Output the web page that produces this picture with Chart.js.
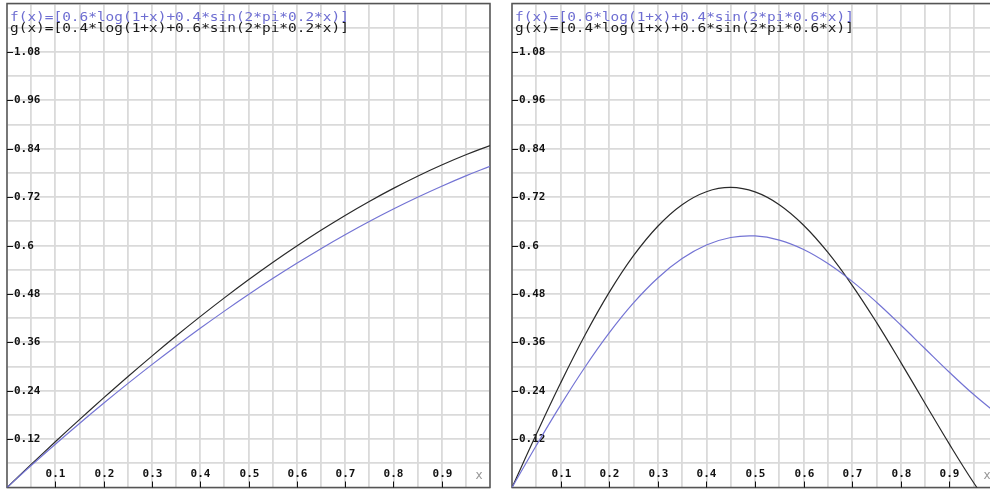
<!DOCTYPE html>
<html>
<head>
<meta charset="utf-8">
<script src="https://cdn.jsdelivr.net/npm/chart.js@4/dist/chart.umd.min.js"></script>
<style>
  html, body { margin:0; padding:0; width:990px; height:489px; overflow:hidden; background:#fff; }
  .panel { position:absolute; top:0; height:489px; }
  .ttl { position:absolute; font-family:"DejaVu Sans Mono", monospace; font-size:13px; line-height:13px; white-space:pre; transform-origin:0 0; transform:scaleX(1.11); }
  .fcol { color:#6e6ed2; }
  .gcol { color:#1a1a1a; }
</style>
</head>
<body>
<div class="panel" style="left:0;width:495px"><canvas id="c1"></canvas></div>
<div class="panel" style="left:505px;width:500px"><canvas id="c2"></canvas></div>
<div id="t1f" class="ttl fcol" style="left:10px;top:10px"></div>
<div id="t1g" class="ttl gcol" style="left:10px;top:21px"></div>
<div id="t2f" class="ttl fcol" style="left:515px;top:10px"></div>
<div id="t2g" class="ttl gcol" style="left:515px;top:21px"></div>
<script>
// ---- data ----
const xValues = [0,0.05,0.1,0.15,0.2,0.25,0.3,0.35,0.4,0.45,0.5,0.55,0.6,0.65,0.7,0.75,0.8,0.85,0.9,0.95,1];
const fLeft  = [0,0.0544,0.1073,0.1588,0.2089,0.2575,0.3047,0.3504,0.3946,0.4373,0.4784,0.5179,0.5558,0.5921,0.6266,0.6594,0.6904,0.7196,0.7470,0.7726,0.7963];
const gLeft  = [0,0.0572,0.1133,0.1683,0.2221,0.2747,0.3258,0.3755,0.4236,0.4701,0.5149,0.5578,0.5987,0.6377,0.6746,0.7093,0.7417,0.7719,0.7996,0.8250,0.8479];
const fRight = [0,0.1042,0.2044,0.2982,0.3832,0.4575,0.5194,0.5675,0.6011,0.6198,0.6237,0.6135,0.5902,0.5554,0.5111,0.4594,0.4028,0.3440,0.2856,0.2304,0.1808];
const gRight = [0,0.1320,0.2590,0.3774,0.4837,0.5747,0.6478,0.7012,0.7334,0.7439,0.7328,0.7011,0.6503,0.5828,0.5013,0.4093,0.3103,0.2084,0.1075,0.0117,-0.0754];
const xTickLabels = ['0.1','0.2','0.3','0.4','0.5','0.6','0.7','0.8','0.9'];
const yTickLabels = ['0.12','0.24','0.36','0.48','0.6','0.72','0.84','0.96','1.08'];
const titlesLeft  = ['f(x)=[0.6*log(1+x)+0.4*sin(2*pi*0.2*x)]','g(x)=[0.4*log(1+x)+0.6*sin(2*pi*0.2*x)]'];
const titlesRight = ['f(x)=[0.6*log(1+x)+0.4*sin(2*pi*0.6*x)]','g(x)=[0.4*log(1+x)+0.6*sin(2*pi*0.6*x)]'];
const axisTitle = 'x';

document.getElementById('t1f').textContent = titlesLeft[0];
document.getElementById('t1g').textContent = titlesLeft[1];
document.getElementById('t2f').textContent = titlesRight[0];
document.getElementById('t2g').textContent = titlesRight[1];

const F_COLOR = '#7474d4';
const G_COLOR = '#2a2a2a';

const framePlugin = {
  id: 'frame',
  beforeDatasetsDraw(chart) {
    const {ctx, chartArea: a, scales} = chart;
    ctx.save();
    // frame
    ctx.strokeStyle = '#555';
    ctx.lineWidth = 1.5;
    ctx.strokeRect(a.left, a.top, a.right - a.left, a.bottom - a.top);
    // tick marks + labels
    ctx.strokeStyle = '#111';
    ctx.lineWidth = 1;
    ctx.fillStyle = '#111';
    ctx.font = 'bold 11px "DejaVu Sans Mono"';
    ctx.textBaseline = 'middle';
    ctx.textAlign = 'left';
    yTickLabels.forEach(lbl => {
      const py = Math.round(scales.y.getPixelForValue(parseFloat(lbl))) + 0.5;
      ctx.beginPath(); ctx.moveTo(a.left, py); ctx.lineTo(a.left + 6, py); ctx.stroke();
      ctx.fillText(lbl, a.left + 7, py);
    });
    ctx.textAlign = 'center';
    xTickLabels.forEach(lbl => {
      const px = Math.round(scales.x.getPixelForValue(parseFloat(lbl))) + 0.5;
      ctx.beginPath(); ctx.moveTo(px, a.bottom); ctx.lineTo(px, a.bottom - 6); ctx.stroke();
      ctx.fillText(lbl, px, a.bottom - 13);
    });
    // axis title
    ctx.fillStyle = '#999';
    ctx.font = '12px "DejaVu Sans"';
    ctx.fillText(axisTitle, a.right - 11, a.bottom - 12);
    ctx.restore();
  }
};

function makeChart(id, fData, gData, padRight) {
  const pts = arr => xValues.map((x, i) => ({x: x, y: arr[i]}));
  return new Chart(document.getElementById(id), {
    type: 'line',
    data: {
      datasets: [
        {label: 'f', data: pts(fData), borderColor: F_COLOR, borderWidth: 1.2, pointRadius: 0, tension: 0.4, fill: false, clip: 0},
        {label: 'g', data: pts(gData), borderColor: G_COLOR, borderWidth: 1.2, pointRadius: 0, tension: 0.4, fill: false, clip: 0}
      ]
    },
    options: {
      responsive: true,
      maintainAspectRatio: false,
      animation: false,
      devicePixelRatio: 1,
      layout: {padding: {left: 7, right: padRight, top: 3.5, bottom: 1.5}},
      plugins: {legend: {display: false}, tooltip: {enabled: false}, title: {display: false}},
      scales: {
        x: {
          type: 'linear', min: 0, max: 1,
          ticks: {display: false, stepSize: 0.05, autoSkip: false},
          grid: {color: '#dadada', lineWidth: 1.8, drawTicks: false},
          border: {display: false}
        },
        y: {
          type: 'linear', min: 0, max: 1.2,
          ticks: {display: false, stepSize: 0.06, autoSkip: false},
          grid: {color: '#dadada', lineWidth: 1.8, drawTicks: false},
          border: {display: false}
        }
      }
    },
    plugins: [framePlugin]
  });
}

makeChart('c1', fLeft, gLeft, 5);
makeChart('c2', fRight, gRight, 7);
</script>
</body>
</html>
